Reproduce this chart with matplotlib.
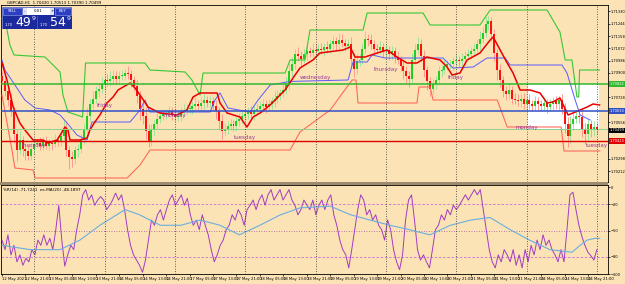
import matplotlib
matplotlib.use("Agg")
import matplotlib.pyplot as plt
from matplotlib.patches import Rectangle
import numpy as np
import pandas as pd

BG = "#FBE3B5"

# GBPCAD H1 closes, in pips above 1.70000
closes = [
    84, 77, 71, 63, 47, 36, 43, 37,
    35, 32, 37, 40, 41, 39, 42, 39,
    41, 40, 43, 42, 46, 51, 36, 31,
    30, 36, 37, 43, 50, 60, 68, 72,
    77, 79, 82, 85, 84, 86, 88, 86,
    88, 88, 90, 89, 85, 81, 74, 65,
    60, 49, 42, 50, 54, 58, 60, 61,
    62, 63, 61, 59, 60, 63, 64, 65,
    65, 67, 68, 67, 69, 71, 69, 70,
    67, 63, 56, 49, 51, 53, 54, 53,
    56, 58, 60, 61, 63, 61, 64, 65,
    67, 68, 66, 68, 70, 72, 74, 76,
    78, 82, 91, 96, 103, 102, 100, 103,
    105, 104, 106, 105, 107, 106, 108, 107,
    110, 112, 110, 113, 111, 109, 110, 100,
    93, 98, 99, 107, 114, 113, 110, 107,
    106, 108, 105, 106, 103, 105, 101, 99,
    95, 91, 88, 86, 99, 106, 110, 102,
    92, 84, 79, 82, 85, 91, 92, 95,
    96, 96, 98, 99, 98, 100, 102, 103,
    105, 107, 110, 114, 118, 124, 126, 117,
    104, 92, 85, 77, 75, 78, 72, 71,
    70, 72, 68, 71, 68, 67, 70, 68,
    67, 69, 66, 68, 70, 68, 71, 65,
    54, 46, 54, 58, 60, 59, 51, 47,
    54, 50, 52, 49.9,
]
first_open = 88

# wick lengths (pips) above / below the body
up_wick = [
    3, 4, 3, 5, 4, 3, 6, 3, 3, 5, 4, 3, 3, 4, 3, 4,
    3, 2, 4, 3, 4, 6, 5, 3, 4, 3, 3, 4, 5, 6, 4, 5,
    4, 3, 5, 3, 4, 5, 4, 3, 3, 4, 3, 5, 3, 3, 4, 3,
    4, 6, 5, 4, 3, 5, 3, 4, 3, 4, 3, 4, 3, 3, 4, 3,
    4, 3, 5, 3, 4, 4, 3, 4, 3, 4, 3, 5, 4, 3, 4, 3,
    3, 4, 3, 4, 3, 4, 3, 4, 3, 4, 3, 4, 3, 5, 4, 3,
    4, 5, 6, 5, 4, 5, 3, 4, 4, 3, 5, 4, 3, 4, 3, 4,
    3, 4, 3, 5, 4, 3, 4, 5, 4, 5, 4, 4, 5, 3, 4, 3,
    3, 4, 3, 4, 3, 4, 3, 4, 3, 3, 4, 3, 5, 4, 5, 4,
    4, 3, 3, 4, 3, 4, 3, 4, 3, 4, 3, 4, 3, 4, 3, 4,
    3, 4, 4, 5, 4, 5, 4, 3, 4, 3, 4, 3, 4, 5, 3, 4,
    4, 3, 4, 3, 4, 3, 4, 3, 3, 4, 3, 4, 3, 4, 3, 4,
    4, 5, 6, 4, 3, 4, 5, 4, 4, 3, 4, 3,
]
dn_wick = [
    2, 3, 4, 3, 6, 8, 3, 5, 6, 3, 3, 4, 2, 3, 3, 2,
    3, 4, 2, 3, 3, 3, 4, 8, 6, 4, 5, 3, 3, 2, 4, 3,
    3, 4, 3, 5, 3, 3, 4, 4, 4, 3, 3, 3, 5, 4, 5, 8,
    6, 5, 4, 3, 4, 3, 3, 3, 3, 3, 4, 3, 3, 4, 3, 3,
    3, 4, 3, 3, 3, 4, 3, 3, 4, 5, 6, 5, 3, 4, 3, 4,
    4, 3, 3, 4, 3, 3, 4, 3, 3, 3, 4, 3, 3, 4, 3, 3,
    3, 3, 4, 4, 3, 4, 5, 3, 4, 3, 3, 4, 3, 3, 4, 3,
    3, 3, 4, 3, 3, 4, 3, 6, 6, 4, 3, 3, 3, 4, 3, 4,
    3, 3, 4, 3, 4, 3, 4, 3, 4, 5, 5, 6, 3, 3, 3, 4,
    5, 6, 5, 4, 3, 3, 4, 3, 3, 3, 4, 3, 3, 4, 3, 3,
    3, 3, 3, 4, 3, 3, 4, 5, 6, 7, 5, 4, 4, 3, 4, 3,
    3, 4, 3, 4, 3, 4, 3, 4, 4, 3, 4, 3, 4, 3, 4, 4,
    6, 8, 5, 4, 3, 4, 6, 7, 4, 5, 4, 3,
]

# channel / average lines: (bar, pips)
upper_band = [(0, 128), (1.4, 123.5), (2.7, 109.5), (4.1, 102.5), (14.7, 101.1), (16.4, 97.6),
              (19.8, 90.6), (20.8, 74.5), (22.5, 62.6), (27.5, 59.1), (28.5, 96.9), (48.8, 96.9),
              (50.5, 92), (62.5, 90.6), (64.8, 85), (67.6, 74.5), (68.6, 89.9), (96.6, 89.9),
              (98.3, 99), (103.4, 99), (105.1, 120), (123.2, 120), (124.6, 131.9), (143.7, 131.9),
              (146.1, 123.5), (163.1, 123.5), (166.6, 134), (186, 134), (190.4, 118.6), (192.2, 99),
              (194.5, 99), (196.2, 73.1), (196.8, 73.1), (197.1, 92), (203.9, 92)]
lower_band = [(0, 74.5), (3.4, 36), (4.4, 23.4), (10.6, 22), (11.3, 16.4), (42.7, 16.4),
              (47.1, 25.5), (50.5, 36), (98.3, 36), (101.7, 48.6), (112, 64), (117.7, 80.1),
              (119.5, 85), (120.8, 85), (121.5, 68.9), (141.6, 68.9), (142.3, 80.1), (146.1, 80.1),
              (147.1, 71), (169, 71), (172.4, 52.1), (190.8, 52.1), (191.8, 35.3), (204, 35.3)]
mid_line = [(0, 99), (1, 92), (4.4, 81.5), (7.8, 71), (11.3, 65.4), (16.4, 64), (19.8, 60.5),
            (22.2, 54.9), (25.6, 46.5), (29, 43), (30.7, 55.6), (43.7, 55.6), (47.1, 64),
            (48.8, 71), (50.5, 62.6), (71, 62.6), (72.7, 71), (74.4, 75.9), (77.1, 65.4),
            (84.6, 62.6), (87.4, 71), (91.5, 81.5), (98.3, 84), (118.1, 85), (119.8, 97.6),
            (124.6, 97.6), (126.3, 102.5), (130.7, 100.4), (150.5, 100.4), (153.9, 93.4),
            (160.8, 94.1), (165.5, 100.4), (171.7, 100.4), (173.4, 95.5), (191.1, 95.5),
            (192.8, 89.9), (195.6, 71), (197.3, 60.5), (200.7, 57)]
avg_line = [(0, 96.9), (1.7, 85), (3.8, 66.1), (6.1, 54.9), (7.8, 50), (10.6, 43), (14, 43),
            (15.7, 40.9), (18.8, 43), (20.5, 48.6), (21.5, 52.1), (22.5, 50), (23.2, 43),
            (26.6, 43), (29, 44.4), (30, 50), (31.7, 55.6), (33.4, 60.5), (35.8, 68.9),
            (37.9, 73.1), (39.6, 78), (43.7, 82.9), (45.4, 79.4), (47.8, 72.4), (49.8, 66.1),
            (53.9, 61.9), (59.7, 60.5), (63.1, 64), (65.2, 73.1), (67.6, 75.9), (73.4, 75.9),
            (74.4, 68.9), (76.8, 61.9), (81.2, 59.1), (83.6, 52.1), (85.7, 59.1), (88.1, 61.9),
            (91.5, 67.5), (96.6, 78), (100, 88.5), (101.7, 93.4), (106.1, 99), (108.5, 103.9),
            (116.4, 106), (118.8, 108.1), (120.5, 101.1), (123.9, 101.1), (128, 103.9),
            (131.4, 106), (134.8, 101.1), (138.2, 96.9), (141.6, 96.9), (145, 101.1),
            (149.5, 99), (151.9, 94.1), (153.6, 88.5), (156.3, 89.9), (158.7, 99), (163.1, 103.9),
            (166.6, 113), (167.6, 115.1), (170, 106), (172.4, 96.9), (174.4, 89.9), (176.8, 78),
            (180.2, 78), (183.6, 75.9), (186, 68.9), (188, 69.6), (190.4, 72.4), (193.2, 60.5),
            (197.3, 64), (199.7, 66.1), (201.7, 68.2), (203.9, 67.5)]

# horizontal levels (pips) and their colours
levels = [(82.2, "#2fb82f", 1.1), (63.3, "#3050c8", 1.1), (50.7, "#8fcf8f", 0.7), (42.3, "#e00000", 1.0)]
box_range = (179.5, 203.8, 50.7, 82.2)

price_ticks = [133.0, 124.4, 115.8, 107.2, 98.6, 90.0, 81.4, 72.8, 64.2, 55.6, 47.0, 38.4, 29.8, 21.2]
day_label_pips = [39.5, 66.8, 59.8, 45.1, 86.4, 92, 86.4, 52.1, 39.5]

# Williams %R(14), one value per bar, and its MA(20)
wpr = [
    -61, -72, -55, -78, -67, -86, -78, -90, -82, -86, -72, -78, -61, -67, -55, -67, -59, -72,
    -49, -21, -61, -91, -78, -67, -72, -49, -32, -9, -3, -15, -9, -21, -15, -11, -15, -26,
    -21, -15, -7, -15, -9, -26, -49, -67, -78, -84, -90, -98, -84, -61, -38, -44, -32, -26,
    -38, -26, -15, -9, -21, -15, -9, -21, -13, -32, -44, -38, -49, -32, -44, -55, -72, -86,
    -78, -67, -61, -49, -44, -32, -38, -26, -32, -44, -26, -21, -15, -26, -15, -9, -21, -9,
    -3, -15, -9, -3, -15, -9, -3, -15, -21, -32, -26, -15, -21, -26, -15, -32, -21, -15,
    -26, -15, -9, -32, -44, -61, -72, -78, -93, -72, -49, -26, -9, -15, -32, -26, -38, -32,
    -44, -49, -61, -38, -49, -72, -86, -95, -78, -38, -15, -9, -38, -72, -84, -78, -86, -93,
    -72, -49, -44, -32, -38, -26, -32, -21, -26, -21, -15, -9, -15, -9, -3, -9, -3, -26,
    -49, -72, -86, -93, -78, -86, -72, -78, -86, -72, -90, -78, -93, -72, -86, -67, -78, -61,
    -72, -55, -67, -61, -72, -78, -86, -72, -86, -49, -9, -6, -26, -44, -57, -67, -75, -79,
    -84, -72,
]
wpr_ma = [(0, -67), (9.6, -72), (19.8, -72), (26.6, -61), (33.4, -44), (42, -26), (47, -32),
          (54, -44), (61, -44), (67.6, -38), (74.4, -44), (81, -55), (88, -44), (95, -32),
          (101.7, -24), (112, -22), (119, -32), (125.6, -38), (132.4, -44), (139, -49),
          (146, -55), (153, -44), (160, -38), (166.5, -35), (173.4, -49), (180, -61), (187, -72),
          (194.5, -75), (197.3, -67), (199.7, -61), (202.4, -59), (204, -59)]


def px(pips):
    return 1.7 + np.asarray(pips, dtype=float) / 10000


def knots(ax, pts, color, lw, price=True):
    xs = [p[0] for p in pts]
    ys = [p[1] for p in pts]
    ax.plot(xs, px(ys) if price else ys, color=color, lw=lw, zorder=4)


W, H = 625, 284
fig = plt.figure(figsize=(W / 100, H / 100), dpi=100, facecolor=BG)
ax = fig.add_axes([1 / W, 1 - 182 / H, 607 / W, 177 / H], facecolor=BG)
ax2 = fig.add_axes([1 / W, 1 - 274 / H, 607 / W, 89 / H], facecolor=BG)

times = pd.date_range("2021-05-12 13:00", "2021-05-25 00:00", freq="h")
times = times[times.dayofweek < 5]
n = len(closes)
bars = np.arange(n)

# candles
c = px(closes)
o = px([first_open] + closes[:-1])
hi = np.maximum(o, c) + np.array(up_wick) / 10000
lo = np.minimum(o, c) - np.array(dn_wick) / 10000
rise = c >= o
for mask, body, wick in [(rise, "#22cc22", "#9ee29e"), (~rise, "#ff1010", "#ff9a90")]:
    ax.vlines(bars[mask], lo[mask], hi[mask], color=wick, lw=0.7, zorder=2)
    h = np.maximum(np.abs(c - o), 0.00003)
    ax.bar(bars[mask], h[mask], bottom=np.minimum(o, c)[mask], width=0.68, color=body, lw=0, zorder=3)

x0, x1, yb, yt = box_range
ax.add_patch(Rectangle((x0, px(yb)), x1 - x0, px(yt) - px(yb), fc="white", ec="none", zorder=1))

knots(ax, upper_band, "#36c836", 0.8)
knots(ax, lower_band, "#ff6a5a", 0.8)
knots(ax, mid_line, "#5a5aff", 0.7)
knots(ax, avg_line, "#e80000", 1.1)

for val, col, lw in levels:
    ax.axhline(px(val), color=col, lw=lw, zorder=4)

# price boxes on the right edge cover the nearby scale labels
boxes = [(82.2, "#2fb82f"), (63.3, "#3050c8"), (closes[-1], "black"), (42.3, "#e00000")]
shown = [t for t in price_ticks if min(abs(t - b[0]) for b in boxes) > 4]

ax.set_xlim(-0.34, 206.8)
ax.set_ylim(px(13.6), px(137.5))
ax.yaxis.tick_right()
ax.set_yticks(px(shown))
ax.set_yticklabels([f"{v:.5f}" for v in px(shown)])
ax.tick_params(axis="y", labelsize=2.6, length=1.2, width=0.5, pad=0.6)
ax.set_xticks([])

tr = ax.get_yaxis_transform()
for val, col in boxes:
    ax.text(1.003, px(val), f"{px(val):.5f}", transform=tr, ha="left", va="center", fontsize=2.6,
            color="white", bbox=dict(boxstyle="square,pad=0.15", fc=col, ec="none"), clip_on=False)

# day separators and day names
day_starts = [i for i in range(n) if times[i].hour == 0]
for a in (ax, ax2):
    for i in day_starts:
        a.axvline(i, color="#333333", lw=0.6, ls=(0, (1, 2)), zorder=5)
for i, yv in zip(day_starts, day_label_pips):
    ax.text(i, px(yv), times[i].strftime("%A").lower(), color="#9a3a9a", fontsize=4,
            ha="center", va="center", zorder=6)

for a in (ax, ax2):
    for s in a.spines.values():
        s.set_linewidth(0.6)

# lower window: Williams %R
ax2.plot(np.linspace(0, n - 1, len(wpr)), wpr, color="#a23cc0", lw=0.7, zorder=3)
knots(ax2, wpr_ma, "#6aaee0", 0.8, price=False)
ax2.axhline(-20, color="#d070d0", lw=0.6, ls=(0, (3, 2)))
ax2.axhline(-80, color="#d070d0", lw=0.6, ls=(0, (3, 2)))
ax2.axhline(-50, color="#a050a0", lw=0.6, ls=(0, (1, 2)))
ax2.set_xlim(-0.34, 206.8)
ax2.set_ylim(-100, 2.3)
ax2.yaxis.tick_right()
ax2.set_yticks([0, -20, -50, -80, -100])
ax2.tick_params(axis="y", labelsize=2.6, length=1.2, width=0.5, pad=0.6)
ax2.text(0.004, 0.97, "%R(14) -71.7241  ex-MA(20) -48.1897", transform=ax2.transAxes,
         fontsize=3, va="top", ha="left")

ticks = list(range(0, n, 8))
ax2.set_xticks(ticks)
ax2.set_xticklabels(["12 May 2021"] + [times[i].strftime("%d %b %H:%M") for i in ticks[1:]],
                    fontsize=2.7, ha="left")
ax2.tick_params(axis="x", length=1.5, width=0.5, pad=1)

# window separator
fig.add_artist(Rectangle((0, 1 - 185 / H), 608 / W, 3 / H, transform=fig.transFigure,
                         fc="#9d8b70", ec="none"))

fig.text(7 / W, 1 - 3.5 / H, "GBPCAD,H1  1.70430 1.70513 1.70390 1.70499", fontsize=2.8, va="center")

# one-click trading panel
pan = fig.add_axes([2 / W, 1 - 29 / H, 70 / W, 22 / H])
pan.set_xlim(0, 70)
pan.set_ylim(22, 0)
pan.axis("off")
pan.add_patch(Rectangle((0, 0), 70, 22, fc="#1b2a9e", ec="#6a78d8", lw=0.5))
pan.add_patch(Rectangle((0.6, 0.6), 19, 7.4, fc="#2c3ec4", ec="#98a4ea", lw=0.4))
pan.add_patch(Rectangle((53, 0.6), 16.4, 7.4, fc="#2c3ec4", ec="#98a4ea", lw=0.4))
pan.add_patch(Rectangle((20.5, 1), 4, 6.6, fc="#dfe3f3", ec="none"))
pan.add_patch(Rectangle((24.5, 1), 23.5, 6.6, fc="white", ec="none"))
pan.add_patch(Rectangle((48, 1), 4, 6.6, fc="#dfe3f3", ec="none"))
pan.plot([35, 35], [9, 21.5], color="#6a78d8", lw=0.4)
pan.text(10, 4.3, "SELL", color="white", fontsize=2.8, ha="center", va="center")
pan.text(61, 4.3, "BUY", color="white", fontsize=2.8, ha="center", va="center")
pan.text(36, 4.3, "0.01", fontsize=2.8, ha="center", va="center")
pan.text(22.5, 4.3, "-", fontsize=2.8, ha="center", va="center")
pan.text(50, 4.3, "+", fontsize=2.8, ha="center", va="center")
pan.text(3, 18, "1.70", color="white", fontsize=2.6, va="center")
pan.text(13, 15.5, "49", color="white", fontsize=9, va="center")
pan.text(29.5, 12, "9", color="white", fontsize=4.5, va="center")
pan.text(38, 18, "1.70", color="white", fontsize=2.6, va="center")
pan.text(48, 15.5, "54", color="white", fontsize=9, va="center")
pan.text(64.5, 12, "9", color="white", fontsize=4.5, va="center")

fig.savefig("out.png", dpi=100, facecolor=BG)
